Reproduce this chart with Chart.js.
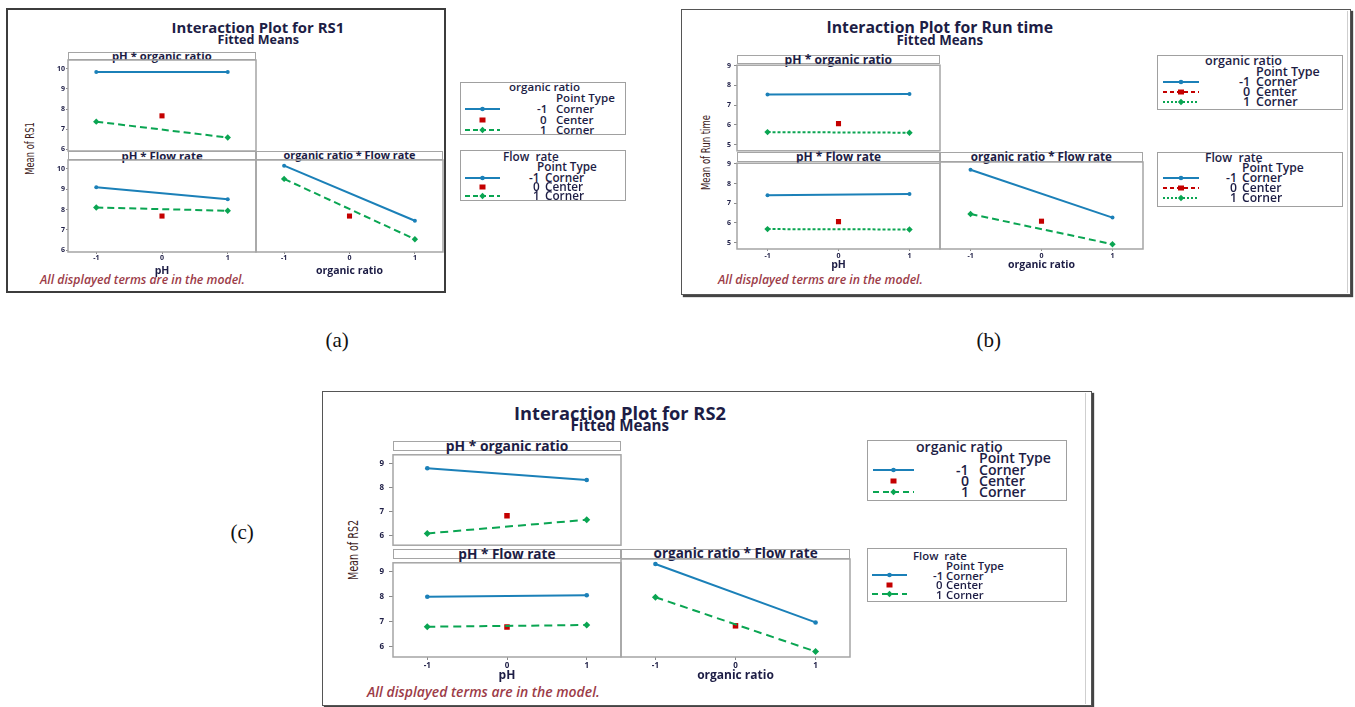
<!DOCTYPE html>
<html>
<head>
<meta charset="utf-8">
<script src="https://cdn.jsdelivr.net/npm/chart.js@4.4.0/dist/chart.umd.min.js"></script>
<style>
  body { margin: 0; background: #fff; }
  #page { position: relative; width: 1355px; height: 707px; overflow: hidden; background: #fff; }
  .t { position: absolute; white-space: pre; line-height: 1; }
  .box { position: absolute; box-sizing: border-box; }
  canvas { position: absolute; }
</style>
</head>
<body>
<div id="page"></div>
<script>
// shared categories / ticks
const xLevels = [-1, 1];
const xCenter = 0;
const xTicks = [-1, 0, 1];
const panelTitles = ["pH * organic ratio", "pH * Flow rate", "organic ratio * Flow rate"];
const xTitles = ["pH", "organic ratio"];

// (a) RS1 -- per panel: [pH*organic ratio, pH*Flow rate, organic ratio*Flow rate]
const rs1YTicks = [6, 7, 8, 9, 10];
const rs1Low = [[9.84, 9.84], [9.10, 8.51], [10.16, 7.45]];
const rs1High = [[7.37, 6.58], [8.10, 7.94], [9.51, 6.54]];
const rs1Center = [7.66, 7.68, 7.68];

// (b) Run time
const runYTicks = [5, 6, 7, 8, 9];
const runLow = [[7.54, 7.57], [7.40, 7.47], [8.64, 6.25]];
const runHigh = [[5.63, 5.60], [5.69, 5.67], [6.43, 4.92]];
const runCenter = [6.06, 6.07, 6.07];

// (c) RS2
const rs2YTicks = [6, 7, 8, 9];
const rs2Low = [[8.80, 8.31], [8.00, 8.06], [9.17, 6.92]];
const rs2High = [[6.08, 6.65], [6.80, 6.87], [7.89, 5.80]];
const rs2Center = [6.82, 6.79, 6.79];

const BLUE = "#1b80b8", GREEN = "#0aa552", RED = "#c40000";
const INK = "#1d1d45", NOTE = "#9c3c48";
const SANS = '"Open Sans", sans-serif';
const page = document.getElementById("page");

function txt(str, x, y, o) {
  const el = document.createElement("div");
  el.className = "t";
  el.textContent = str;
  el.style.fontSize = o.size + "px";
  el.style.fontWeight = o.weight || 700;
  el.style.fontFamily = o.family || SANS;
  el.style.color = o.color || INK;
  if (o.italic) el.style.fontStyle = "italic";
  page.appendChild(el);
  let squeeze = 1;
  if (o.w && o.squeeze) squeeze = o.w / el.offsetWidth;
  else if (o.w) el.style.fontSize = (o.size * o.w / el.offsetWidth) + "px";
  const w = el.offsetWidth, h = el.offsetHeight;
  const ax = o.align === "left" ? 0 : o.align === "right" ? 1 : 0.5;
  el.style.left = (x - ax * w) + "px";
  el.style.top = (y - h / 2) + "px";
  let tf = "";
  if (o.rotate) tf += "rotate(-90deg) ";
  if (squeeze !== 1) tf += `scale(${squeeze}, 1)`;
  if (tf) el.style.transform = tf;
  return el;
}

function rect(l, t, w, h, css) {
  const d = document.createElement("div");
  d.className = "box";
  d.style.left = l + "px"; d.style.top = t + "px";
  d.style.width = w + "px"; d.style.height = h + "px";
  Object.assign(d.style, css);
  page.appendChild(d);
  return d;
}

// frame round each panel's plot area
const framePlugin = {
  id: "panelFrame",
  beforeDatasetsDraw(chart) {
    const a = chart.chartArea, ctx = chart.ctx;
    ctx.save();
    ctx.strokeStyle = "#a5a5a5";
    ctx.lineWidth = 1.5;
    ctx.strokeRect(a.left, a.top, a.right - a.left, a.bottom - a.top);
    ctx.restore();
  }
};

function makePanel(f, p) {
  const pad = 6;
  const yW = p.showY ? f.yAxisW : 0;
  const xH = p.showX ? f.xTitleY - p.b + 0.6 * f.xTitleSize : 0;
  const left = Math.round(p.l - yW - pad), top = Math.round(p.t - pad);
  const w = Math.round(p.r) - left + pad;
  const h = Math.round(p.b) - top + Math.round(xH) + pad;
  const cv = document.createElement("canvas");
  cv.width = w; cv.height = h;
  cv.style.left = left + "px"; cv.style.top = top + "px";
  cv.style.width = w + "px"; cv.style.height = h + "px";
  page.appendChild(cv);

  const tickFont = { family: SANS, size: f.tickSize, weight: "bold" };
  new Chart(cv, {
    type: "scatter",
    data: {
      datasets: [
        {
          data: xLevels.map((x, i) => ({ x: x, y: p.low[i] })),
          showLine: true, borderColor: BLUE, borderWidth: 2,
          pointRadius: f.dot, pointBackgroundColor: BLUE, pointBorderWidth: 0
        },
        {
          data: xLevels.map((x, i) => ({ x: x, y: p.high[i] })),
          showLine: true, borderColor: GREEN, borderWidth: 2, borderDash: p.dash,
          pointStyle: "rectRot", pointRadius: f.dot + 1.2,
          pointBackgroundColor: GREEN, pointBorderColor: GREEN, pointBorderWidth: 0
        },
        {
          data: [{ x: xCenter, y: p.center }],
          showLine: false, pointStyle: "rect", pointRadius: f.dot + 1.6,
          pointBackgroundColor: RED, pointBorderColor: RED, pointBorderWidth: 0
        }
      ]
    },
    options: {
      responsive: false, animation: false, devicePixelRatio: 1,
      layout: { padding: pad },
      events: [],
      plugins: { legend: { display: false }, tooltip: { enabled: false } },
      scales: {
        x: {
          type: "linear", min: -1.43, max: 1.43, display: p.showX,
          afterBuildTicks: (s) => { s.ticks = xTicks.map((v) => ({ value: v })); },
          afterFit: (s) => { s.height = Math.round(xH); },
          grid: { drawOnChartArea: false, tickLength: f.xTickLen, color: "#8a8a8a" },
          border: { display: false },
          ticks: { padding: f.xTickPad, font: tickFont, color: INK, maxRotation: 0, autoSkip: false },
          title: {
            display: p.showX, text: p.xTitle, color: INK, padding: 0,
            font: { family: SANS, size: f.xTitleSize, weight: "bold" }
          }
        },
        y: {
          type: "linear", min: f.yRange[0], max: f.yRange[1], display: p.showY,
          afterBuildTicks: (s) => { s.ticks = f.yTicks.map((v) => ({ value: v })); },
          afterFit: (s) => { s.width = yW; },
          grid: { drawOnChartArea: false, tickLength: f.yTickLen, color: "#8a8a8a" },
          border: { display: false },
          ticks: { padding: f.yTickPad, font: tickFont, color: INK, autoSkip: false }
        }
      }
    },
    plugins: [framePlugin]
  });
}

function sampleSvg(x1, x2, y, color, dash, marker) {
  const NS = "http://www.w3.org/2000/svg";
  const w = x2 - x1;
  const svg = document.createElementNS(NS, "svg");
  svg.setAttribute("width", w); svg.setAttribute("height", 10);
  svg.style.position = "absolute";
  svg.style.left = x1 + "px"; svg.style.top = (y - 5) + "px";
  if (dash !== null) {
    const ln = document.createElementNS(NS, "line");
    ln.setAttribute("x1", 0); ln.setAttribute("x2", w);
    ln.setAttribute("y1", 5); ln.setAttribute("y2", 5);
    ln.setAttribute("stroke", color); ln.setAttribute("stroke-width", 2);
    if (dash) ln.setAttribute("stroke-dasharray", dash);
    svg.appendChild(ln);
  }
  const c = w / 2;
  let m;
  if (marker === "circle") {
    m = document.createElementNS(NS, "circle");
    m.setAttribute("cx", c); m.setAttribute("cy", 5); m.setAttribute("r", 2.3);
  } else if (marker === "rect") {
    m = document.createElementNS(NS, "rect");
    m.setAttribute("x", c - 3); m.setAttribute("y", 2.5);
    m.setAttribute("width", 6); m.setAttribute("height", 5);
  } else {
    m = document.createElementNS(NS, "polygon");
    m.setAttribute("points", `${c - 3.2},5 ${c},1.8 ${c + 3.2},5 ${c},8.2`);
  }
  m.setAttribute("fill", color);
  svg.appendChild(m);
  page.appendChild(svg);
}

function legend(L) {
  rect(L.box[0], L.box[1], L.box[2], L.box[3], { border: "1px solid #a0a0a0", background: "#fff" });
  const pt = txt("Point Type", L.pt[0], L.pt[1], { size: 10, weight: 600, align: "left", w: L.ptW });
  const size = parseFloat(pt.style.fontSize);
  txt(L.title, L.titleAt[0], L.titleAt[1], { size: size, weight: 600, align: "left" });
  const nums = ["-1", "0", "1"], words = ["Corner", "Center", "Corner"];
  const cols = [BLUE, RED, GREEN], marks = ["circle", "rect", "diamond"];
  L.rows.forEach((y, i) => {
    txt(nums[i], L.numX, y, { size: size, weight: 600, align: "right" });
    txt(words[i], L.wordX, y, { size: size, weight: 600, align: "left" });
    sampleSvg(L.sample[0], L.sample[1], y, cols[i], L.dashes[i], marks[i]);
  });
}

function figure(f) {
  // outer frame
  rect(f.frame[0], f.frame[1], f.frame[2] - f.frame[0], f.frame[3] - f.frame[1], f.frameCss);
  if (f.innerX) rect(f.innerX, f.frame[1] + 2, 1, f.frame[3] - f.frame[1] - 4, { background: "#cfcfcf" });

  txt(f.title, f.titleAt[0], f.titleAt[1], { size: 13, weight: 700, w: f.titleAt[2] });
  txt("Fitted Means", f.subAt[0], f.subAt[1], { size: 11, weight: 700, w: f.subAt[2] });
  txt("All displayed terms are in the model.", f.noteAt[0], f.noteAt[1],
      { size: 10, weight: 600, italic: true, color: NOTE, align: "left", w: f.noteAt[2] });
  txt(f.yTitle, f.yTitleAt[0], f.yTitleAt[1],
      { size: f.yTitleSize, weight: 400, family: '"Liberation Sans Narrow", "DejaVu Sans Condensed", sans-serif',
        color: "#3e1c1c", rotate: true, squeeze: true, w: f.yTitleAt[2] });

  const [L, M, R] = f.cols;
  const [s1, p1, s2, p2, bot] = f.rowsY;
  // strips
  const strips = [[L, M, s1, p1], [L, M, s2, p2], [M, R, s2, p2]];
  strips.forEach((s, i) => {
    rect(s[0], s[2], s[1] - s[0], s[3] - s[2], { border: "1px solid #a5a5a5", background: "#fff" });
    txt(panelTitles[i], (s[0] + s[1]) / 2, (s[2] + s[3]) / 2, { size: 9, weight: 700, w: f.stripW[i] });
  });

  makePanel(f, { l: L, r: M, t: p1, b: s2, showY: true, showX: false,
                 low: f.low[0], high: f.high[0], center: f.center[0], dash: f.dashLeft });
  makePanel(f, { l: L, r: M, t: p2, b: bot, showY: true, showX: true, xTitle: xTitles[0],
                 low: f.low[1], high: f.high[1], center: f.center[1], dash: f.dashLeft });
  makePanel(f, { l: M, r: R, t: p2, b: bot, showY: false, showX: true, xTitle: xTitles[1],
                 low: f.low[2], high: f.high[2], center: f.center[2], dash: f.dashRight });

  f.legends.forEach(legend);
  txt(f.tag[0], f.tag[1], f.tag[2], { size: 21, weight: 400, family: '"Liberation Serif", serif', color: "#111" });
}

figure({
  frame: [6, 8, 446, 293], frameCss: { border: "2px solid #3c3c3c" },
  title: "Interaction Plot for RS1", titleAt: [258, 27, 173], subAt: [258, 40, 81],
  noteAt: [40, 280, 205], yTitle: "Mean of RS1", yTitleAt: [30, 148, 53], yTitleSize: 13,
  cols: [68, 256, 443], rowsY: [52, 59.5, 151, 160, 252],
  stripW: [100, 81, 132],
  yRange: [5.91, 10.44], yTicks: rs1YTicks,
  low: rs1Low, high: rs1High, center: rs1Center,
  dashLeft: [7, 4], dashRight: [7, 4], dot: 2,
  yAxisW: 24, yTickLen: 2, yTickPad: 1, xTickLen: 2, xTickPad: 0, tickSize: 7,
  xTitleY: 270.7, xTitleSize: 10.5,
  tag: ["(a)", 337, 340],
  legends: [
    { box: [460, 82, 166, 53], pt: [556, 98], ptW: 59, titleAt: [509, 87], title: "organic ratio",
      numX: 547, wordX: 556, rows: [109, 119.5, 130], sample: [465, 500], dashes: ["", null, "5,3"] },
    { box: [460, 150, 166, 51], pt: [537, 167.3], ptW: 60, titleAt: [503, 157], title: "Flow  rate",
      numX: 540, wordX: 545, rows: [177.7, 186.7, 196], sample: [465, 500], dashes: ["", null, "5,3"] }
  ]
});

figure({
  frame: [681, 9, 1351, 295], frameCss: { border: "1px solid #555", boxShadow: "2px 2px 1px #444" },
  innerX: 1347,
  title: "Interaction Plot for Run time", titleAt: [940, 28.3, 227], subAt: [940, 40, 86],
  noteAt: [718, 280, 205], yTitle: "Mean of Run time", yTitleAt: [705, 152, 75], yTitleSize: 13,
  cols: [737, 940, 1142.7], rowsY: [55, 64.3, 152.3, 161.7, 249],
  stripW: [108, 85, 141],
  yRange: [4.68, 9.03], yTicks: runYTicks,
  low: runLow, high: runHigh, center: runCenter,
  dashLeft: [3, 2], dashRight: [7, 4], dot: 2,
  yAxisW: 30, yTickLen: 3, yTickPad: 3, xTickLen: 2, xTickPad: 1, tickSize: 7,
  xTitleY: 265, xTitleSize: 10.5,
  tag: ["(b)", 989, 340],
  legends: [
    { box: [1157, 55, 186, 55], pt: [1256, 72], ptW: 64, titleAt: [1205, 61.7], title: "organic ratio",
      numX: 1250, wordX: 1256, rows: [82.3, 92.3, 102.3], sample: [1163, 1199], dashes: ["", "4,3", "2,2"] },
    { box: [1157, 152, 186, 55], pt: [1242, 168.3], ptW: 62, titleAt: [1205, 158.3], title: "Flow  rate",
      numX: 1237, wordX: 1242, rows: [178.3, 188.3, 198.3], sample: [1163, 1199], dashes: ["", "4,3", "2,2"] }
  ]
});

figure({
  frame: [322, 391, 1092, 706], frameCss: { border: "1px solid #555", boxShadow: "2px 2px 1px #444" },
  innerX: 1085,
  title: "Interaction Plot for RS2", titleAt: [620, 412.7, 212], subAt: [620, 425.7, 98],
  noteAt: [367, 692.3, 233], yTitle: "Mean of RS2", yTitleAt: [352, 550, 60], yTitleSize: 14,
  cols: [392.7, 621, 850], rowsY: [440.7, 450.7, 549, 559, 657.3],
  stripW: [123, 97, 164],
  yRange: [5.59, 9.36], yTicks: rs2YTicks,
  low: rs2Low, high: rs2High, center: rs2Center,
  dashLeft: [8, 5], dashRight: [8, 5], dot: 2.3,
  yAxisW: 30, yTickLen: 4, yTickPad: 5, xTickLen: 3, xTickPad: 1, tickSize: 8,
  xTitleY: 675.7, xTitleSize: 12,
  tag: ["(c)", 242, 532],
  legends: [
    { box: [867, 440, 200, 61], pt: [979, 458.3], ptW: 72, titleAt: [916, 446.7], title: "organic ratio",
      numX: 969, wordX: 979, rows: [469.7, 481, 492.3], sample: [873, 914], dashes: ["", null, "6,4"] },
    { box: [867, 548, 200, 54], pt: [946, 565], ptW: 58, titleAt: [913, 555.7], title: "Flow  rate",
      numX: 943, wordX: 946, rows: [575, 584.7, 594.3], sample: [872, 907], dashes: ["", null, "6,4"] }
  ]
});
</script>
</body>
</html>
